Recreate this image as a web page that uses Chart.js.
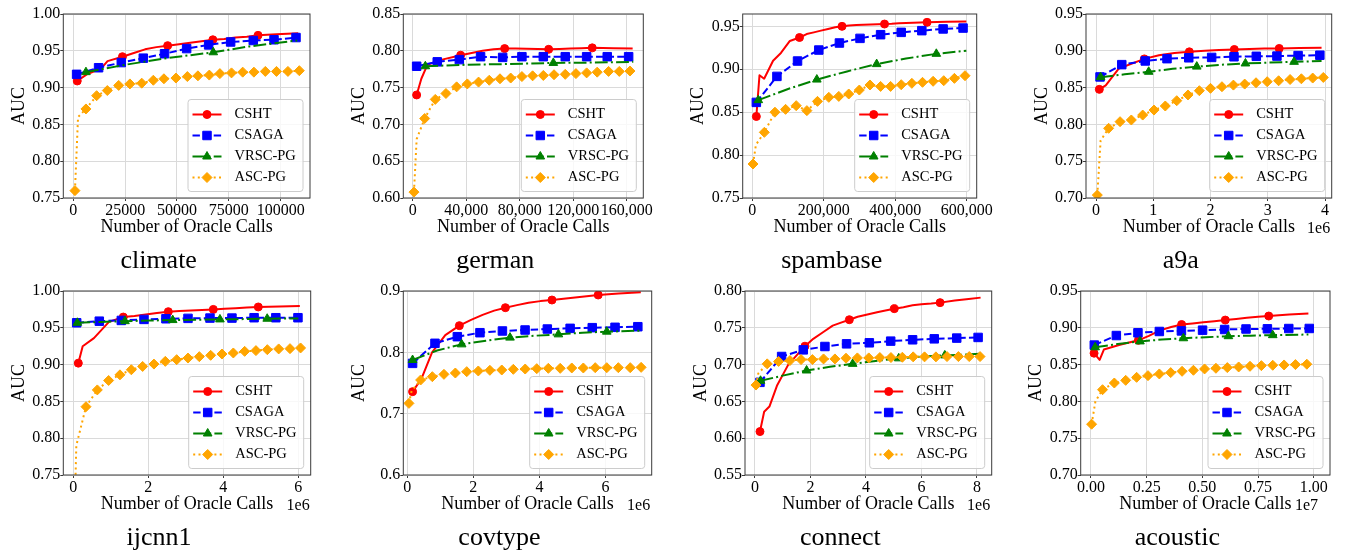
<!DOCTYPE html>
<html>
<head>
<meta charset="utf-8">
<title>AUC vs oracle calls</title>
<script src="https://cdn.jsdelivr.net/npm/chart.js@4.4.1/dist/chart.umd.min.js"></script>
<style>
  html, body { margin: 0; padding: 0; background: #fff; }
  body { position: relative; width: 1351px; height: 557px; overflow: hidden; }
  canvas { position: absolute; }
</style>
</head>
<body>
<script>
var serif = '"Liberation Serif", "Times New Roman", serif';

var seriesNames = ['CSHT', 'CSAGA', 'VRSC-PG', 'ASC-PG'];
var seriesColors = ['#ff0000', '#0000ff', '#008000', '#ffa500'];
var seriesDash = [[], [7.4, 3.2], [12.8, 3.2, 2, 3.2], [2, 3.3]];
var seriesMarker = ['circle', 'rect', 'triangle', 'rectRot'];
var markerRadius = [4, 6, 5, 5];

// tick labels (values are parsed from them)
var climateXTicks = ['0', '25000', '50000', '75000', '100000'];
var germanXTicks = ['0', '40,000', '80,000', '120,000', '160,000'];
var spambaseXTicks = ['0', '200,000', '400,000', '600,000'];
var a9aXTicks = ['0', '1', '2', '3', '4'];
var evenXTicks6 = ['0', '2', '4', '6'];
var evenXTicks8 = ['0', '2', '4', '6', '8'];
var acousticXTicks = ['0.00', '0.25', '0.50', '0.75', '1.00'];

var yTicks075 = ['0.75', '0.80', '0.85', '0.90', '0.95', '1.00'];
var yTicks060 = ['0.60', '0.65', '0.70', '0.75', '0.80', '0.85'];
var yTicksSpam = ['0.75', '0.80', '0.85', '0.90', '0.95'];
var yTicks070 = ['0.70', '0.75', '0.80', '0.85', '0.90', '0.95'];
var yTicksCov = ['0.6', '0.7', '0.8', '0.9'];
var yTicks055 = ['0.55', '0.60', '0.65', '0.70', '0.75', '0.80'];

// climate
var climateCSHT = [[1900, .909], [6500, .918], [13500, .926], [16500, .936], [23700, .942], [29200, .947], [34600, .952], [40100, .955], [45500, .957], [51000, .959], [56400, .961], [61900, .963], [67300, .965], [72800, .966], [78200, .968], [83700, .969], [89100, .971], [98000, .9725], [108500, .974]];
var climateCSAGA = [[1600, .918], [12200, .927], [23150, .934], [33760, .940], [44000, .946], [54660, .953], [65270, .958], [75880, .962], [86800, .964], [96800, .965], [107400, .968]];
var climateVRSC = [[6100, .921], [25000, .931], [45000, .940], [67500, .948], [85000, .956], [108000, .964]];
var climateASC = [[800, .760], [2300, .860], [6100, .871], [11250, .889], [16400, .896], [21900, .903], [27300, .905], [33000, .906], [38600, .910], [43700, .912], [49500, .913], [55000, .915], [60100, .916], [65600, .917], [70700, .919], [76300, .920], [81700, .921], [87100, .921], [92600, .922], [98000, .922], [103500, .922], [109000, .923]];

// german
var germanCSHT = [[3000, .740], [6500, .762], [11000, .781], [22000, .788], [35900, .794], [44100, .797], [52300, .800], [60600, .802], [68800, .803], [77000, .803], [85200, .8028], [93500, .8025], [101700, .802], [109900, .8025], [118100, .803], [126200, .8035], [134300, .804], [150000, .8035], [164500, .803]];
var germanCSAGA = [[3000, .779], [18400, .785], [34900, .788], [50800, .792], [67300, .791], [81700, .792], [97700, .792], [114100, .792], [130100, .792], [145500, .792], [161500, .792]];
var germanVRSC = [[9500, .779], [40000, .781], [70000, .782], [105200, .7835], [135000, .784], [165000, .785]];
var germanASC = [[1000, .608], [3000, .680], [9000, .708], [16900, .734], [24900, .742], [32900, .751], [40900, .755], [49300, .7575], [57300, .760], [65300, .762], [73300, .763], [81700, .765], [89700, .766], [97700, .7665], [105700, .7675], [114100, .768], [122100, .769], [130100, .770], [138000, .771], [146500, .772], [154500, .772], [162500, .7725]];

// spambase
var spambaseCSHT = [[11200, .845], [20000, .893], [33000, .889], [58000, .910], [80000, .919], [105000, .933], [132000, .937], [152000, .941], [172000, .943], [192000, .945], [212000, .947], [232000, .949], [251000, .950], [271000, .951], [291000, .9515], [311000, .952], [331000, .9522], [351000, .9525], [370000, .9527], [390000, .953], [410000, .9535], [430000, .954], [450000, .9542], [470000, .9545], [489000, .9547], [545000, .9553], [599000, .9558]];
var spambaseCSAGA = [[11200, .8614], [68800, .8917], [126500, .9096], [186000, .9224], [243700, .9306], [301400, .936], [359000, .9403], [416700, .943], [474400, .945], [534000, .947], [589800, .948]];
var spambaseVRSC = [[16700, .864], [100000, .877], [180500, .888], [265000, .8975], [348000, .906], [430000, .9125], [515000, .918], [599000, .9217]];
var spambaseASC = [[1900, .7896], [10000, .812], [33500, .8265], [63300, .850], [93000, .8533], [122800, .8576], [152600, .8518], [182300, .8626], [214000, .8673], [242000, .8684], [269800, .8712], [299500, .8758], [329300, .8817], [359000, .880], [387000, .880], [416700, .882], [446500, .8836], [476300, .8848], [506000, .886], [535800, .8867], [565600, .8894], [595300, .8925]];

// a9a (x in units of 1e6)
var a9aCSHT = [[0.058, .8476], [0.17, .853], [0.4, .876], [0.844, .889], [1.1, .894], [1.37, .897], [1.63, .8986], [1.9, .900], [2.15, .901], [2.416, .9018], [2.68, .9025], [2.94, .903], [3.2, .9032], [3.55, .9037], [3.94, .904]];
var a9aCSAGA = [[0.07, .8645], [0.45, .8812], [0.86, .8862], [1.24, .8893], [1.62, .8905], [2.02, .891], [2.41, .8919], [2.8, .8925], [3.16, .8928], [3.53, .8935], [3.91, .894]];
var a9aVRSC = [[0.08, .8642], [0.5, .868], [0.92, .8715], [1.34, .8755], [1.76, .8785], [2.18, .881], [2.61, .8828], [3.03, .884], [3.46, .885], [3.94, .886]];
var a9aASC = [[0.023, .704], [0.08, .778], [0.22, .7947], [0.42, .8037], [0.617, .806], [0.815, .8127], [1.013, .8195], [1.21, .825], [1.41, .8322], [1.607, .840], [1.805, .8458], [2.0, .849], [2.2, .8512], [2.4, .8534], [2.597, .8548], [2.795, .8566], [2.99, .858], [3.19, .8593], [3.39, .861], [3.587, .862], [3.785, .863], [3.97, .8638]];

// ijcnn1 (x in units of 1e6)
var ijcnnCSHT = [[0.133, .902], [0.25, .925], [0.55, .936], [0.95, .958], [1.333, .9646], [1.63, .966], [1.93, .968], [2.23, .970], [2.533, .9719], [2.83, .9728], [3.13, .9736], [3.43, .9743], [3.733, .975], [4.03, .9759], [4.33, .9767], [4.63, .9775], [4.933, .9783], [5.5, .979], [6.04, .9797]];
var ijcnnCSAGA = [[0.09, .9568], [0.693, .959], [1.28, .960], [1.884, .9614], [2.47, .9623], [3.058, .9628], [3.644, .9632], [4.23, .9632], [4.82, .9637], [5.4, .9637], [5.99, .9637]];
var ijcnnVRSC = [[0.107, .9568], [0.74, .958], [1.378, .959], [2.01, .9598], [2.65, .9605], [3.28, .961], [3.91, .9614], [4.54, .9618], [5.17, .9623], [6.0, .9628]];
var ijcnnASC = [[0.036, .70], [0.08, .79], [0.338, .8428], [0.64, .8656], [0.942, .8784], [1.244, .8861], [1.547, .893], [1.849, .8975], [2.15, .9007], [2.453, .9044], [2.756, .9067], [3.058, .9089], [3.36, .9108], [3.662, .9126], [3.964, .9144], [4.267, .9158], [4.569, .918], [4.87, .919], [5.173, .9203], [5.476, .9213], [5.778, .9217], [6.06, .9226]];

// covtype (x in units of 1e6)
var covtypeCSHT = [[0.16, .7359], [0.43, .757], [0.75, .800], [1.15, .828], [1.576, .8435], [1.93, .853], [2.28, .861], [2.63, .868], [2.97, .8728], [3.32, .877], [3.67, .881], [4.03, .8835], [4.38, .8853], [4.73, .8875], [5.08, .8895], [5.43, .8915], [5.78, .8935], [6.4, .896], [7.07, .8978]];
var covtypeCSAGA = [[0.16, .782], [0.838, .8147], [1.515, .8255], [2.2, .832], [2.88, .8348], [3.566, .8364], [4.24, .838], [4.93, .8391], [5.6, .8402], [6.29, .8408], [6.98, .8418]];
var covtypeVRSC = [[0.16, .7875], [0.9, .803], [1.646, .813], [2.38, .819], [3.11, .824], [3.84, .827], [4.576, .8293], [5.3, .832], [6.04, .8337], [7.05, .8353]];
var covtypeASC = [[0.05, .7168], [0.13, .737], [0.404, .7549], [0.758, .7603], [1.11, .7641], [1.455, .7663], [1.8, .7685], [2.15, .7696], [2.5, .7707], [2.86, .7712], [3.21, .7723], [3.57, .7728], [3.92, .7734], [4.27, .7739], [4.63, .7739], [4.98, .7745], [5.33, .7745], [5.69, .775], [6.04, .775], [6.39, .775], [6.75, .775], [7.08, .7755]];

// connect (x in units of 1e6)
var connectCSHT = [[0.18, .609], [0.33, .636], [0.52, .643], [0.8, .672], [1.2, .700], [1.8, .725], [2.1, .735], [2.45, .744], [2.8, .753], [3.1, .757], [3.4, .761], [3.7, .765], [4.05, .768], [4.4, .771], [4.7, .7735], [5.02, .776], [5.35, .778], [5.68, .7805], [6.0, .782], [6.35, .783], [6.67, .7842], [7.2, .787], [7.7, .789], [8.13, .791]];
var connectCSAGA = [[0.18, .6759], [0.96, .711], [1.74, .720], [2.52, .7246], [3.3, .7282], [4.12, .7296], [4.89, .7319], [5.68, .7337], [6.46, .735], [7.27, .736], [8.04, .7369]];
var connectVRSC = [[0.2, .678], [1.0, .685], [1.86, .692], [2.7, .697], [3.52, .701], [4.35, .705], [5.18, .7085], [6.0, .711], [6.84, .7125], [8.1, .7146]];
var connectASC = [[0.036, .6722], [0.12, .688], [0.44, .701], [0.85, .7043], [1.26, .7055], [1.66, .7068], [2.07, .7068], [2.47, .7077], [2.88, .7077], [3.28, .7087], [3.69, .7091], [4.1, .7091], [4.5, .7096], [4.9, .7096], [5.31, .710], [5.7, .7105], [6.11, .7105], [6.52, .7105], [6.92, .7109], [7.33, .7109], [7.72, .7109], [8.11, .7109]];

// acoustic (x in units of 1e7)
var acousticCSHT = [[0.014, .8655], [0.039, .8565], [0.058, .8705], [0.13, .877], [0.213, .883], [0.26, .889], [0.31, .8965], [0.36, .901], [0.407, .9045], [0.456, .906], [0.505, .9075], [0.554, .909], [0.603, .9105], [0.652, .912], [0.7, .9135], [0.75, .915], [0.798, .916], [0.89, .918], [0.976, .9195]];
var acousticCSAGA = [[0.015, .8765], [0.114, .8895], [0.211, .8932], [0.307, .895], [0.406, .8958], [0.501, .8968], [0.6, .8977], [0.696, .8984], [0.792, .8986], [0.888, .899], [0.98, .8991]];
var acousticVRSC = [[0.019, .8735], [0.12, .878], [0.22, .8815], [0.318, .884], [0.415, .8858], [0.516, .8872], [0.617, .8886], [0.716, .8893], [0.816, .890], [0.976, .8909]];
var acousticASC = [[0.003, .769], [0.02, .80], [0.052, .8159], [0.105, .825], [0.156, .8286], [0.205, .8327], [0.256, .835], [0.307, .8373], [0.358, .8391], [0.409, .8409], [0.46, .8423], [0.51, .8441], [0.561, .845], [0.612, .8459], [0.663, .8468], [0.714, .8477], [0.765, .8486], [0.816, .8491], [0.867, .8495], [0.918, .85], [0.969, .8505]];

var panels = [
  {title: 'climate', series: [climateCSHT, climateCSAGA, climateVRSC, climateASC], every: [4, 1, 3, 1],
   xTicks: climateXTicks, yTicks: yTicks075, x: [-4820, 114150], y: [0.75, 1.0], col: 0, row: 0, box: [63.3, 310], offset: ''},
  {title: 'german', series: [germanCSHT, germanCSAGA, germanVRSC, germanASC], every: [4, 1, 3, 1],
   xTicks: germanXTicks, yTicks: yTicks060, x: [-6980, 172460], y: [0.60, 0.85], col: 1, row: 0, box: [403.3, 643.3], offset: ''},
  {title: 'spambase', series: [spambaseCSHT, spambaseCSAGA, spambaseVRSC, spambaseASC], every: [6, 1, 2, 1],
   xTicks: spambaseXTicks, yTicks: yTicksSpam, x: [-27000, 628000], y: [0.75, 0.9644], col: 2, row: 0, box: [742.7, 976.7], offset: ''},
  {title: 'a9a', series: [a9aCSHT, a9aCSAGA, a9aVRSC, a9aASC], every: [3, 1, 2, 1],
   xTicks: a9aXTicks, yTicks: yTicks070, x: [-0.175, 4.117], y: [0.70, 0.95], col: 3, row: 0, box: [1086, 1331.7], offset: '1e6', offsetShift: 1.5},
  {title: 'ijcnn1', series: [ijcnnCSHT, ijcnnCSAGA, ijcnnVRSC, ijcnnASC], every: [4, 1, 2, 1],
   xTicks: evenXTicks6, yTicks: yTicks075, x: [-0.267, 6.33], y: [0.75, 1.0], col: 0, row: 1, box: [63.3, 310.7], offset: '1e6', offsetShift: 1},
  {title: 'covtype', series: [covtypeCSHT, covtypeCSAGA, covtypeVRSC, covtypeASC], every: [4, 1, 2, 1],
   xTicks: evenXTicks6, yTicks: yTicksCov, x: [-0.121, 7.40], y: [0.6, 0.9], col: 1, row: 1, box: [403.3, 651.7], offset: '1e6', offsetShift: 1.5},
  {title: 'connect', series: [connectCSHT, connectCSAGA, connectVRSC, connectASC], every: [5, 1, 2, 1],
   xTicks: evenXTicks8, yTicks: yTicks055, x: [-0.36, 8.53], y: [0.55, 0.80], col: 2, row: 1, box: [745, 991.7], offset: '1e6', offsetShift: 1.5},
  {title: 'acoustic', series: [acousticCSHT, acousticCSAGA, acousticVRSC, acousticASC], every: [4, 1, 2, 1],
   xTicks: acousticXTicks, yTicks: yTicks070, x: [-0.046, 1.073], y: [0.70, 0.95], col: 3, row: 1, box: [1080.7, 1330], offset: '1e7', offsetShift: 12}
];

var canvasLeft = [0, 341, 682, 1023];
var canvasTop = [0, 277];
var canvasW = 321, canvasH = 278, yAxisW = 56;

function tickValue(s) {
  return Number(s.replace(/,/g, ''));
}

function hasMarker(idx, i, every) {
  if (i === 3) return idx !== 1; // ASC-PG: point 1 is only the steep lead-in, no marker
  return idx % every === 0;
}

function makeDataset(points, i, every) {
  return {
    label: seriesNames[i],
    data: points.map(function (p) { return {x: p[0], y: p[1]}; }),
    borderColor: seriesColors[i],
    backgroundColor: seriesColors[i],
    borderWidth: 2,
    borderDash: seriesDash[i],
    borderJoinStyle: 'round',
    pointStyle: seriesMarker[i],
    pointBackgroundColor: seriesColors[i],
    pointBorderColor: seriesColors[i],
    pointBorderWidth: 1,
    pointRadius: function (c) { return hasMarker(c.dataIndex, i, every) ? markerRadius[i] : 0; },
    tension: 0,
    clip: 0,
    order: 4 - i
  };
}

// frame round the plot, legend box inside, offset text under the x axis
var framePlugin = {
  id: 'frame',
  afterDatasetsDraw: function (chart) {
    var ctx = chart.ctx, a = chart.chartArea;
    ctx.save();
    ctx.setLineDash([]);
    ctx.strokeStyle = '#3a3a3a';
    ctx.lineWidth = 1;
    ctx.strokeRect(a.left, a.top, a.right - a.left, a.bottom - a.top);

    var w = 115, h = 92, bx = a.right - 7 - w, by = a.bottom - 6.5 - h;
    ctx.beginPath();
    ctx.roundRect(bx, by, w, h, 3);
    ctx.fillStyle = 'rgba(255,255,255,0.8)';
    ctx.fill();
    ctx.strokeStyle = '#cccccc';
    ctx.stroke();

    seriesNames.forEach(function (name, i) {
      var cy = by + 15 + i * 21;
      ctx.beginPath();
      ctx.setLineDash(seriesDash[i]);
      ctx.strokeStyle = seriesColors[i];
      ctx.lineWidth = 2;
      ctx.moveTo(bx + 4.5, cy);
      ctx.lineTo(bx + 33.5, cy);
      ctx.stroke();
      ctx.setLineDash([]);
      ctx.lineWidth = 1;
      ctx.fillStyle = seriesColors[i];
      Chart.helpers.drawPoint(ctx, {pointStyle: seriesMarker[i], radius: markerRadius[i], rotation: 0, borderWidth: 1}, bx + 19, cy);
      ctx.fillStyle = '#000';
      ctx.font = '14.5px ' + serif;
      ctx.textBaseline = 'middle';
      ctx.textAlign = 'left';
      ctx.fillText(name, bx + 46.5, cy);
    });

    var p = chart.options.plugins.frame;
    if (p && p.offset) {
      ctx.font = '16px ' + serif;
      ctx.textAlign = 'right';
      ctx.textBaseline = 'alphabetic';
      ctx.fillStyle = '#000';
      ctx.fillText(p.offset, a.right - p.shift, a.bottom + 35);
    }
    ctx.restore();
  }
};

panels.forEach(function (p) {
  var cv = document.createElement('canvas');
  var left = canvasLeft[p.col], top = canvasTop[p.row];
  cv.width = canvasW;
  cv.height = canvasH;
  cv.style.left = left + 'px';
  cv.style.top = top + 'px';
  document.body.appendChild(cv);

  var xVals = p.xTicks.map(tickValue), yVals = p.yTicks.map(tickValue);
  var tickFont = {family: serif, size: 16};
  var gridOpts = {color: '#dadada', lineWidth: 1, tickColor: '#3a3a3a', tickLength: 3, drawTicks: true};

  new Chart(cv, {
    type: 'line',
    data: {
      datasets: p.series.map(function (pts, i) { return makeDataset(pts, i, p.every[i]); })
    },
    options: {
      responsive: false,
      animation: false,
      events: [],
      layout: {padding: {left: p.box[0] - left - yAxisW, right: left + canvasW - p.box[1], top: 14, bottom: 0.8}},
      plugins: {
        legend: {display: false},
        tooltip: {enabled: false},
        title: {display: true, position: 'bottom', text: p.title, color: '#000',
                font: {family: serif, size: 26, weight: 'normal'}, padding: {top: 8, bottom: 0}},
        frame: {offset: p.offset, shift: p.offsetShift || 0}
      },
      scales: {
        x: {
          type: 'linear', min: p.x[0], max: p.x[1],
          afterFit: function (s) { s.height = 40; },
          afterBuildTicks: function (s) { s.ticks = xVals.map(function (v) { return {value: v}; }); },
          ticks: {autoSkip: false, maxRotation: 0, padding: 0, color: '#000', font: tickFont,
                  callback: function (v, idx) { return p.xTicks[idx]; }},
          grid: gridOpts,
          border: {display: false},
          title: {display: true, text: 'Number of Oracle Calls', color: '#000',
                  font: {family: serif, size: 18}, padding: {top: 0, bottom: 0}}
        },
        y: {
          type: 'linear', min: p.y[0], max: p.y[1],
          afterFit: function (s) { s.width = yAxisW; },
          afterBuildTicks: function (s) { s.ticks = yVals.map(function (v) { return {value: v}; }); },
          ticks: {autoSkip: false, padding: 0, color: '#000', font: tickFont,
                  callback: function (v, idx) { return p.yTicks[idx]; }},
          grid: gridOpts,
          border: {display: false},
          title: {display: true, text: 'AUC', color: '#000',
                  font: {family: serif, size: 18}, padding: {top: 1.2, bottom: 0}}
        }
      }
    },
    plugins: [framePlugin]
  });
});
</script>
</body>
</html>
